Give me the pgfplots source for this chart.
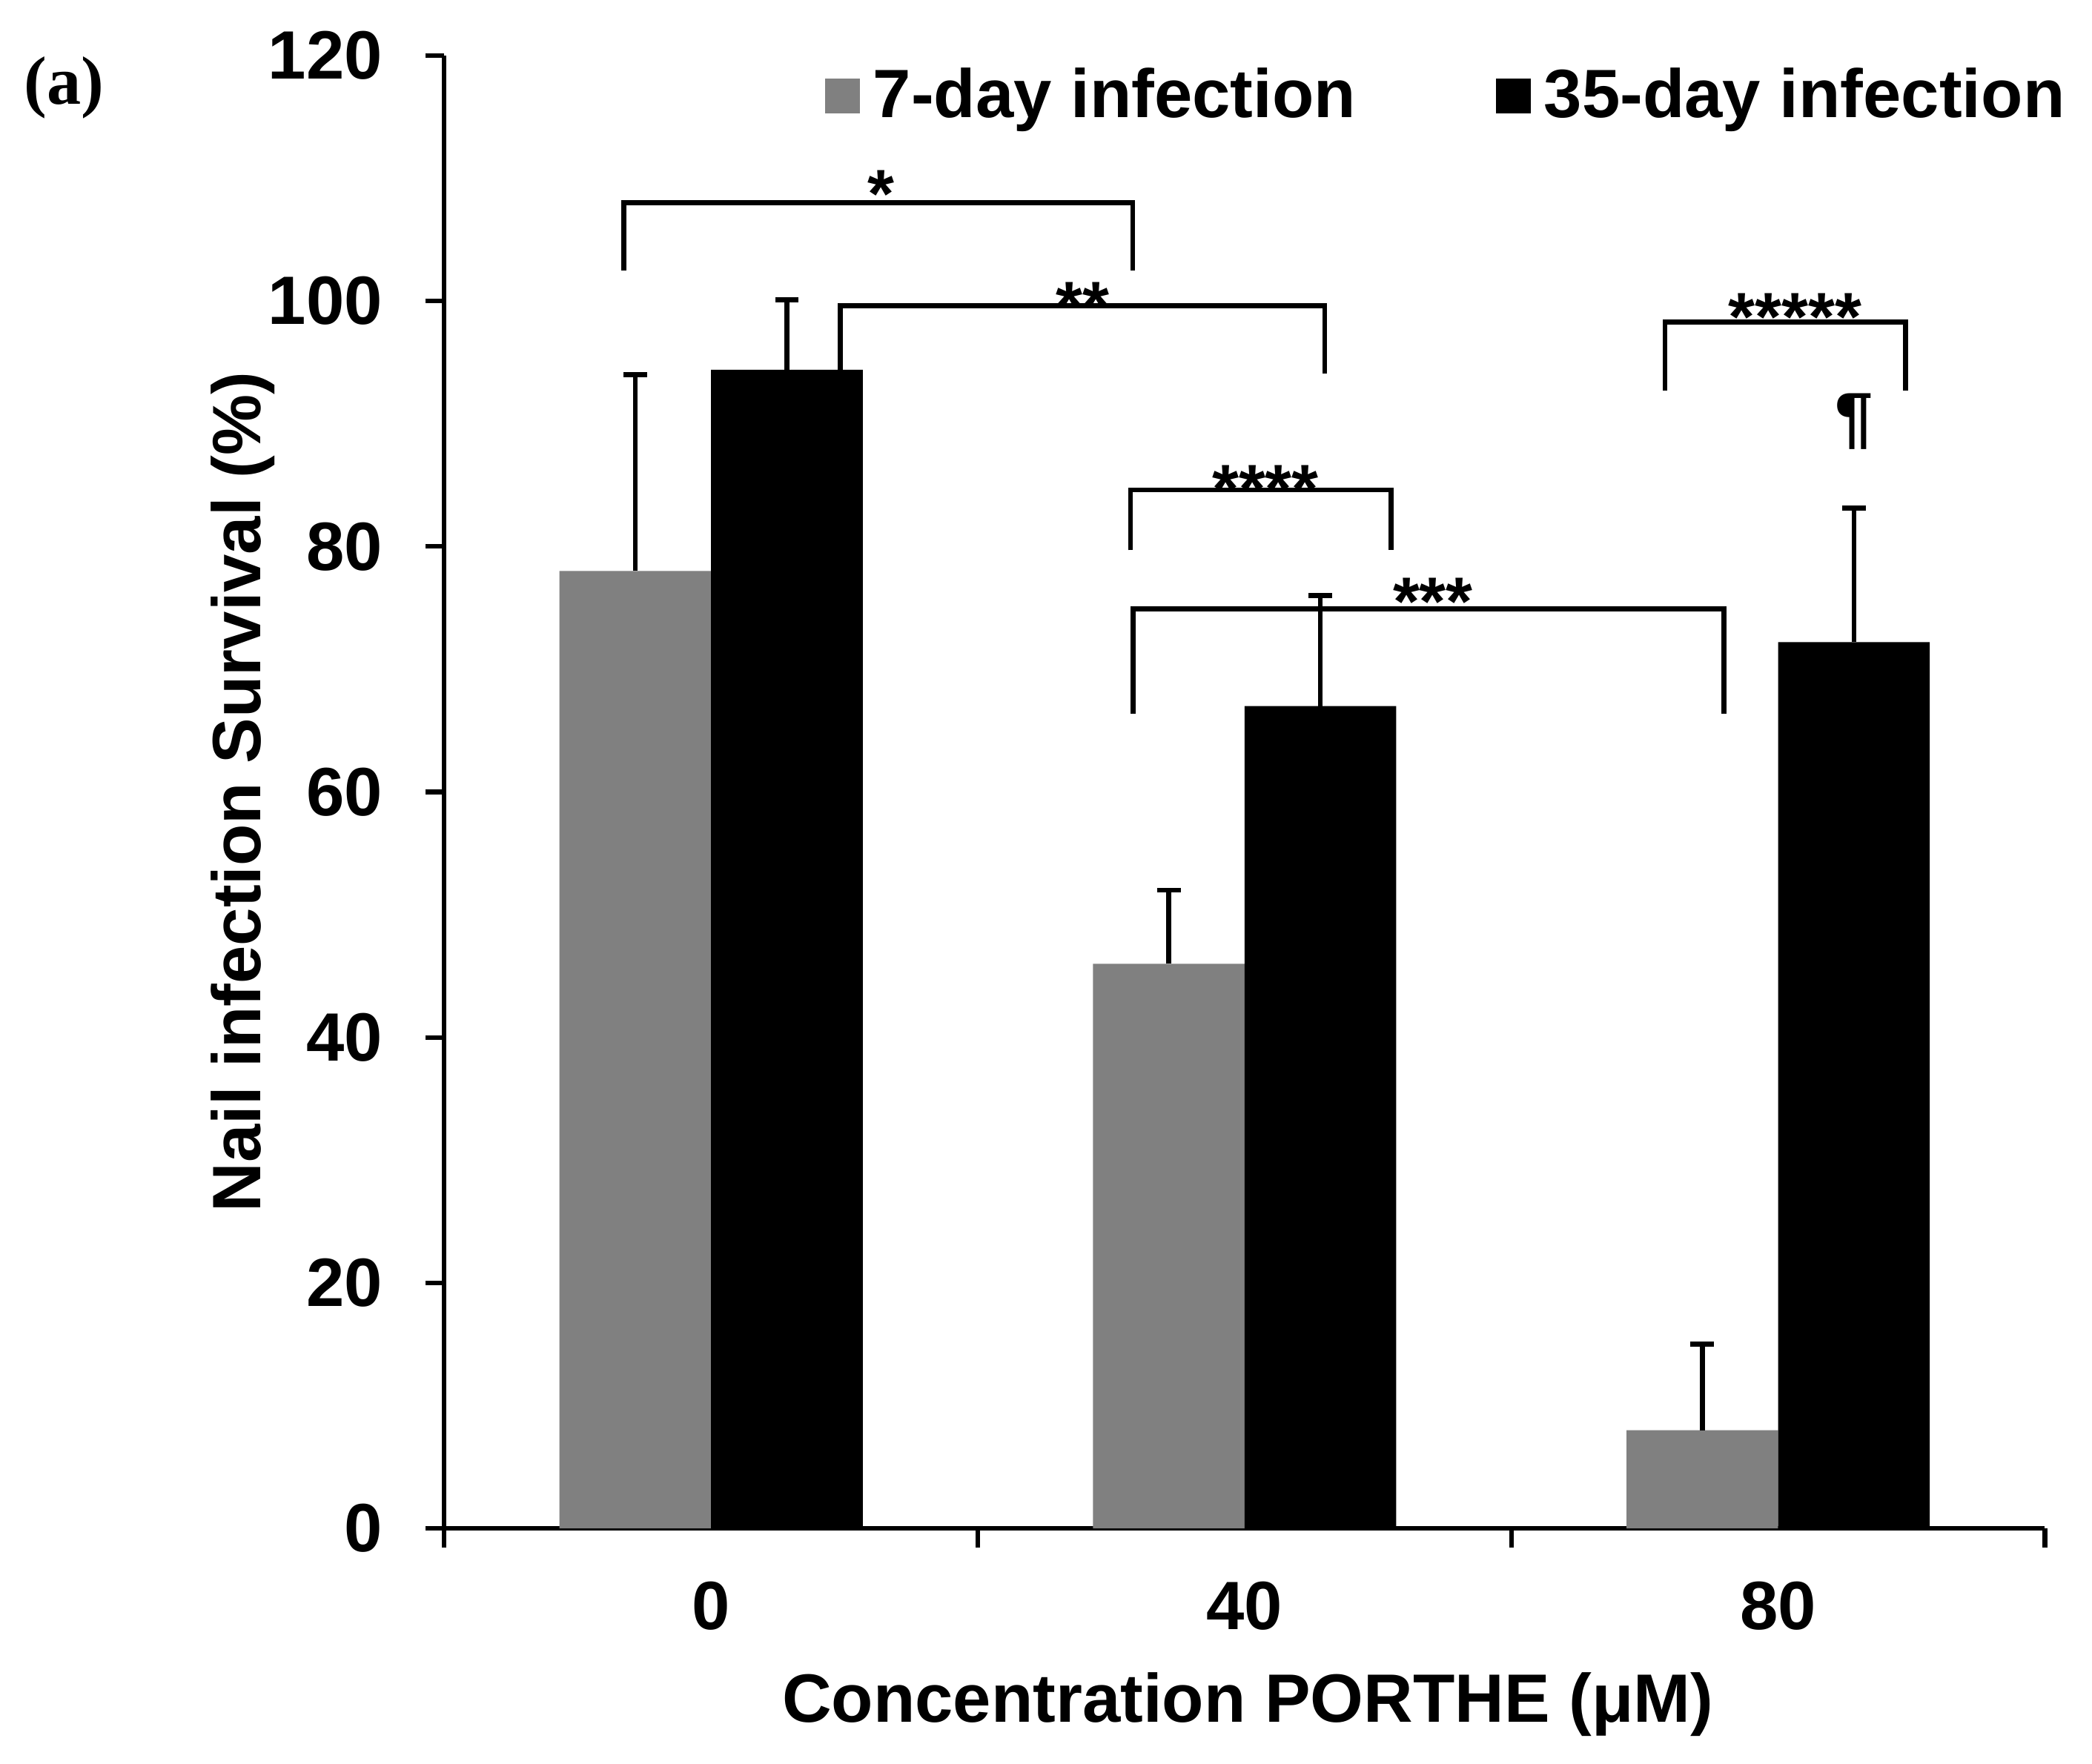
\documentclass[border=0pt]{standalone}
\usepackage{pgfplots}
\pgfplotsset{compat=1.18}
\usepackage{fontspec}
\setmainfont{Liberation Sans}
\newfontfamily\serifface{Liberation Serif}
\definecolor{barGray}{HTML}{808080}
\newcommand{\bigf}{\fontsize{18}{21.6}\selectfont\bfseries}
\begin{document}
\begin{tikzpicture}
\begin{axis}[
  scale only axis, width=421.1pt, height=387.6pt,
  at={(0,0)}, anchor=south west,
  ybar=0pt, bar width=39.9pt,
  xmin=-0.5, xmax=2.5, ymin=0, ymax=120,
  enlargelimits=false, clip=false,
  axis lines=left,
  axis line style={-, line width=1.2pt},
  xtick={0,1,2}, xticklabels={0,40,80},
  major x tick style={draw=none},
  minor xtick={-0.5,0.5,1.5,2.5},
  ytick={0,20,...,120},
  tick align=outside,
  major tick length=5pt, minor tick length=5pt,
  tick style={line width=1.2pt, black},
  /pgf/number format/assume math mode=true,
  tick label style={font=\bigf, inner sep=0pt},
  yticklabel style={anchor=east, xshift=-11.1pt},
  xticklabel style={anchor=base, yshift=-21.5pt},
  xlabel={Concentration PORTHE (μM)},
  xlabel style={font=\bigf, at={(axis description cs:0.502,-0.1316)}, anchor=base, inner sep=0pt},
  ylabel={Nail infection Survival (\%)},
  ylabel style={font=\bigf, at={(axis description cs:-0.1149,0.5)}, anchor=base, inner sep=0pt},
  legend columns=2,
  legend style={at={(axis description cs:0.238,0.9915)}, anchor=north west, draw=none, fill=none,
    inner sep=0pt, outer sep=0pt, font=\bigf,
    cells={anchor=base west},
    nodes={inner sep=0pt, text height=13pt, text depth=4pt},
    /tikz/every odd column/.append style={column sep=3.4pt},
    /tikz/every even column/.append style={column sep=36.9pt}},
]
\addplot[fill=barGray, draw=none,
  legend image code/.code={\fill[barGray] (0pt,1pt) rectangle (9.2pt,10.2pt);},
  error bars/.cd, y dir=plus, y explicit,
  error bar style={line width=1.25pt, black},
  error mark options={rotate=90, line width=1.35pt, mark size=3.1pt, black}]
  coordinates {(0,78) +- (0,16) (1,46) +- (0,6) (2,8) +- (0,7)};
\addlegendentry{7-day infection}
\addplot[fill=black, draw=none,
  legend image code/.code={\fill[black] (0pt,1pt) rectangle (9.2pt,10.2pt);},
  error bars/.cd, y dir=plus, y explicit,
  error bar style={line width=1.25pt, black},
  error mark options={rotate=90, line width=1.35pt, mark size=3.1pt, black}]
  coordinates {(0,94.4) +- (0,5.7) (1,67) +- (0,9) (2,72.2) +- (0,10.9)};
\addlegendentry{35-day infection}
% significance brackets
\draw[line width=1.3pt] (axis cs:-0.1635,102.5) -- (axis cs:-0.1635,108.0) -- (axis cs:0.7905,108.0) -- (axis cs:0.7905,102.5);
\draw[line width=1.3pt] (axis cs:0.242,94.4) -- (axis cs:0.242,99.6) -- (axis cs:1.150,99.6) -- (axis cs:1.150,94.1);
\draw[line width=1.3pt] (axis cs:0.786,79.7) -- (axis cs:0.786,84.6) -- (axis cs:1.275,84.6) -- (axis cs:1.275,79.7);
\draw[line width=1.3pt] (axis cs:0.791,66.4) -- (axis cs:0.791,74.9) -- (axis cs:1.898,74.9) -- (axis cs:1.898,66.4);
\draw[line width=1.3pt] (axis cs:1.788,92.7) -- (axis cs:1.788,98.3) -- (axis cs:2.239,98.3) -- (axis cs:2.239,92.7);
\node[anchor=base, inner sep=0pt, font=\bigf] at (axis cs:0.318,106.8) {*};
\node[anchor=base, inner sep=0pt, font=\bigf] at (axis cs:0.696,97.7) {**};
\node[anchor=base, inner sep=0pt, font=\bigf] at (axis cs:1.039,82.75) {****};
\node[anchor=base, inner sep=0pt, font=\bigf] at (axis cs:1.353,73.6) {***};
\node[anchor=base, inner sep=0pt, font=\bigf] at (axis cs:2.032,96.8) {*****};
\node[anchor=base, inner sep=0pt, font=\bigf] at (axis cs:2.142,88.6) {¶};
\end{axis}
\node[anchor=base west, inner sep=0pt, font=\serifface\fontsize{18}{21.6}\selectfont\bfseries] at (-110.7pt,374.8pt) {(a)};
\pgfresetboundingbox
\path[use as bounding box] (-116.9pt,-61.8pt) rectangle (433.5pt,402.2pt);
\end{tikzpicture}
\end{document}
